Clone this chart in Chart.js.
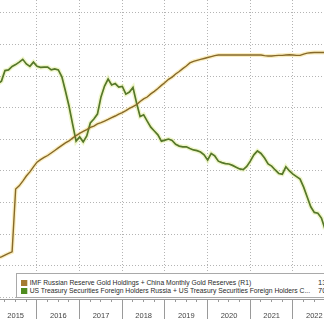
<!DOCTYPE html>
<html><head><meta charset="utf-8">
<script src="https://cdn.jsdelivr.net/npm/chart.js@4.4.1/dist/chart.umd.min.js"></script>
<style>
html,body{margin:0;padding:0;background:#fff;}
#wrap{position:relative;width:324px;height:319px;overflow:hidden;}
canvas{display:block}
#legend{position:absolute;left:16px;top:273px;width:340px;height:23px;border:1px solid #a9a9a9;background:#fff;
  font-family:'Liberation Sans',sans-serif;font-size:7.5px;color:#2a2a2a;}
.row{position:absolute;left:4px;height:8px;line-height:8px;white-space:nowrap;transform:scaleX(0.9);transform-origin:0 50%}
.sw{display:inline-block;width:6.6px;height:6px;vertical-align:-1px;margin-right:3px}
.val{position:absolute;left:301px;height:8px;line-height:8px;white-space:nowrap}
</style></head>
<body>
<div id="wrap">
<canvas id="c" width="324" height="319"></canvas>
<div id="legend"></div>
</div>
<script>
// ---- data (monthly, month-end) ----
const months = [
 '2015-01','2015-02','2015-03','2015-04','2015-05','2015-06','2015-07','2015-08','2015-09','2015-10','2015-11','2015-12',
 '2016-01','2016-02','2016-03','2016-04','2016-05','2016-06','2016-07','2016-08','2016-09','2016-10','2016-11','2016-12',
 '2017-01','2017-02','2017-03','2017-04','2017-05','2017-06','2017-07','2017-08','2017-09','2017-10','2017-11','2017-12',
 '2018-01','2018-02','2018-03','2018-04','2018-05','2018-06','2018-07','2018-08','2018-09','2018-10','2018-11','2018-12',
 '2019-01','2019-02','2019-03','2019-04','2019-05','2019-06','2019-07','2019-08','2019-09','2019-10','2019-11','2019-12',
 '2020-01','2020-02','2020-03','2020-04','2020-05','2020-06','2020-07','2020-08','2020-09','2020-10','2020-11','2020-12',
 '2021-01','2021-02','2021-03','2021-04','2021-05','2021-06','2021-07','2021-08','2021-09','2021-10','2021-11','2021-12',
 '2022-01','2022-02','2022-03','2022-04','2022-05','2022-06','2022-07','2022-08','2022-09'
];
// Russia + China gold reserves (million troy oz, right axis R1)
const goldReserves = [
 72.5,72.8,73.4,73.9,74.4,94.3,95.3,96.8,98.4,99.7,101.3,102.8,
 103.6,104.3,104.9,105.7,106.5,107.3,108.1,108.9,109.5,110.4,111.2,111.9,
 112.5,113.1,113.8,114.2,114.9,115.3,115.8,116.3,116.9,117.4,118.0,118.5,
 119.1,119.8,120.4,121.0,122.0,122.8,123.4,124.4,125.2,126.1,127.1,128.0,
 129.0,129.7,130.7,131.5,132.4,133.2,134.2,134.7,135.0,135.3,135.6,135.9,
 136.2,136.5,136.7,136.7,136.7,136.7,136.7,136.7,136.7,136.7,136.7,136.7,
 136.7,136.7,136.7,136.5,136.4,136.4,136.5,136.6,136.6,136.7,136.8,136.7,
 136.6,136.6,137.0,137.3,137.4,137.5,137.5,137.5,137.5
];
// Russia + China holdings of US Treasury securities (USD bn)
const treasuryHoldings = [
 1298,1306,1336,1338,1348,1353,1360,1368,1355,1348,1360,1348,
 1345,1346,1346,1338,1341,1338,1318,1278,1235,1184,1135,1147,
 1133,1150,1187,1198,1212,1261,1292,1312,1295,1299,1289,1291,
 1269,1275,1288,1244,1205,1210,1192,1175,1164,1153,1135,1138,
 1141,1137,1126,1121,1119,1119,1114,1110,1108,1104,1096,1081,
 1100,1093,1078,1074,1071,1070,1066,1061,1056,1054,1063,1078,
 1096,1107,1100,1087,1070,1064,1053,1043,1041,1062,1050,1041,
 1034,1027,1004,976,948,932,930,916,885
];
const seriesNames = [
 'IMF Russian Reserve Gold Holdings + China Monthly Gold Reserves (R1)',
 'US Treasury Securities Foreign Holders Russia + US Treasury Securities Foreign Holders C...'
];
const legendValues = ['137.50','70.88'];
const yearLabels = ['2015','2016','2017','2018','2019','2020','2021','2022'];
const goldGridValues = [60,70,80,90,100,110,120,130,140,150];

// ---- view window ----
const xMin = 2015.133, xMax = 2022.727;
const goldMin = 59.49, goldMax = 154.11;
const tsyMin = 685.5, tsyMax = 1537.0;

const monthEnd = m => { const [y, mo] = m.split('-').map(Number); return y + mo / 12; };
const goldPts = months.map((m, i) => ({x: monthEnd(m), y: goldReserves[i]}));
const tsyPts = months.map((m, i) => ({x: monthEnd(m), y: treasuryHoldings[i]}));

const yearTicks = [];
yearLabels.forEach(y => { const v = Number(y); if (v > xMin) yearTicks.push(v); yearTicks.push(v + 0.5); });
yearTicks.sort((a, b) => a - b);
const quarterTicks = [];
for (let y = 2015; y <= 2022; y++) for (let q = 0; q < 4; q++) { const v = y + q / 4; if (v > xMin && v < xMax) quarterTicks.push(v); }
const isBoundary = v => Math.abs(v - Math.round(v)) < 1e-6;

const GOLD = '#86692b', GREEN = '#56782a';
const GRID = '#b4b4b4', AXIS = '#9a9a9a';
const DOT = [1, 2];

Chart.defaults.font.family = "'Liberation Sans',sans-serif";

new Chart(document.getElementById('c'), {
  type: 'line',
  data: { datasets: [
    {label: seriesNames[0], data: goldPts, yAxisID: 'y', borderColor: GOLD, borderWidth: 1.4, pointRadius: 0, tension: 0},
    {label: seriesNames[1], data: tsyPts, yAxisID: 'y2', borderColor: GREEN, borderWidth: 1.7, pointRadius: 0, tension: 0},
    {label: 'halo1', data: goldPts, yAxisID: 'y', borderColor: 'rgba(246,226,150,0.6)', borderWidth: 4, pointRadius: 0, tension: 0},
    {label: 'halo2', data: tsyPts, yAxisID: 'y2', borderColor: 'rgba(228,238,160,0.55)', borderWidth: 4.5, pointRadius: 0, tension: 0}
  ]},
  options: {
    responsive: false, animation: false, devicePixelRatio: 1,
    layout: {padding: 0},
    plugins: {legend: {display: false}, tooltip: {enabled: false}},
    scales: {
      x2: {
        type: 'linear', min: xMin, max: xMax, position: 'bottom', weight: 0,
        afterBuildTicks: s => { s.ticks = quarterTicks.map(v => ({value: v})); },
        grid: {drawOnChartArea: false, tickLength: 3, tickColor: AXIS, color: AXIS},
        border: {display: true, color: AXIS, width: 1},
        ticks: {display: false},
        afterFit: s => { s.height = 0; s.paddingLeft = 0; s.paddingRight = 0; }
      },
      x: {
        type: 'linear', min: xMin, max: xMax, position: 'bottom', weight: 1,
        afterBuildTicks: s => { s.ticks = yearTicks.map(v => ({value: v})); },
        grid: {
          display: true, drawOnChartArea: true,
          color: ctx => (ctx.tick && isBoundary(ctx.tick.value)) ? GRID : 'rgba(0,0,0,0)',
          tickColor: ctx => (ctx.tick && isBoundary(ctx.tick.value)) ? AXIS : 'rgba(0,0,0,0)',
          tickLength: 20, lineWidth: 1, tickBorderDash: []
        },
        border: {display: false, dash: DOT},
        ticks: {
          autoSkip: false, maxRotation: 0, padding: -8, color: '#444', font: {size: 7.5},
          callback: v => isBoundary(v) ? '' : yearLabels[Math.floor(v) - 2015]
        },
        afterFit: s => { s.height = 20; s.paddingLeft = 0; s.paddingRight = 0; }
      },
      y: {
        position: 'left', min: goldMin, max: goldMax,
        afterBuildTicks: s => { s.ticks = goldGridValues.map(v => ({value: v})); },
        grid: {display: true, drawOnChartArea: true, color: GRID, drawTicks: false, lineWidth: 1},
        border: {display: false, dash: DOT},
        ticks: {display: false},
        afterFit: s => { s.width = 0; s.paddingTop = 0; s.paddingBottom = 0; }
      },
      y2: {position: 'right', min: tsyMin, max: tsyMax, display: false}
    }
  }
});

// legend (HTML text)
const lg = document.getElementById('legend');
const swatches = ['#a47b31', '#4f8c1f'];
seriesNames.forEach((n, i) => {
  const top = (i === 0 ? 5 : 13) + 'px';
  const r = document.createElement('div');
  r.className = 'row';
  r.style.top = top;
  r.innerHTML = '<span class="sw" style="background:' + swatches[i] + '"></span>' + n;
  lg.appendChild(r);
  const v = document.createElement('div');
  v.className = 'val';
  v.style.top = top;
  v.textContent = legendValues[i];
  lg.appendChild(v);
});
</script>
</body></html>
